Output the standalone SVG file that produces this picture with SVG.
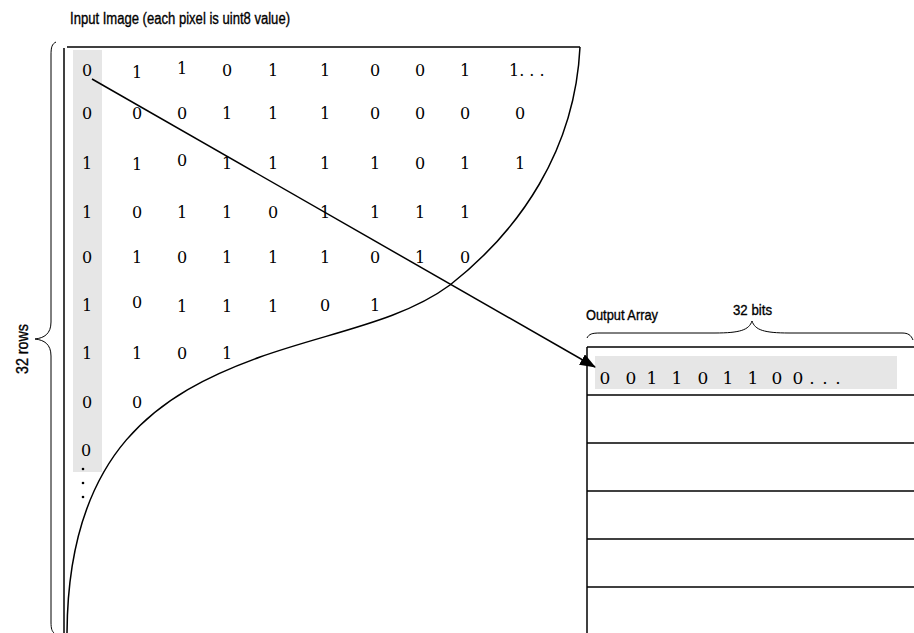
<svg xmlns="http://www.w3.org/2000/svg" width="914" height="633" viewBox="0 0 914 633">
<style>
.lbl{font-family:"Liberation Sans",Arial,sans-serif;fill:#000;stroke:#000;stroke-width:0.35;}
.num{font-family:"DejaVu Serif","Liberation Serif",serif;font-size:16px;fill:#000;text-anchor:middle;}
.ser{font-family:"DejaVu Serif","Liberation Serif",serif;fill:#000;}
.ln{fill:none;stroke:#000;stroke-width:1.5;}
.br{fill:none;stroke:#000;stroke-width:1;}
</style>
<defs>
<marker id="ah" markerWidth="16" markerHeight="12" refX="15" refY="6" orient="auto" markerUnits="userSpaceOnUse">
<path d="M0,0 L16,6 L0,12 Z" fill="#000"/>
</marker>
</defs>
<rect width="914" height="633" fill="#fff"/>

<g id="input-image">
<text class="lbl" x="70" y="24" font-size="16" textLength="220" lengthAdjust="spacingAndGlyphs">Input Image (each pixel is uint8 value)</text>
<rect x="73" y="50" width="29" height="422" fill="#e6e6e6"/>
<line class="ln" x1="64" y1="48" x2="64" y2="633"/>
<line class="ln" x1="67" y1="47" x2="580" y2="47"/>
<path class="ln" d="M580,47 C575,150 520,230 450,285 C400,322 330,332 260,357 C160,393 68,450 67,633"/>
<path class="br" d="M56,42 C52,44 51,47 51,55 L51,322 C51,334 44,338 35,339 C44,340 51,344 51,356 L51,622 C51,629 52,631 54,633"/>
<text class="lbl" transform="translate(28,374) rotate(-90)" font-size="16" textLength="50" lengthAdjust="spacingAndGlyphs">32 rows</text>
<g id="pixels">
<text class="num" x="87" y="76">0</text><text class="num" x="137" y="78">1</text><text class="num" x="182" y="74">1</text><text class="num" x="227" y="76">0</text><text class="num" x="273" y="76">1</text><text class="num" x="325" y="76">1</text><text class="num" x="375" y="76">0</text><text class="num" x="420" y="76">0</text><text class="num" x="465" y="76">1</text><text class="ser" x="509" y="76" font-size="16">1. . .</text>
<text class="num" x="87" y="119">0</text><text class="num" x="137" y="119">0</text><text class="num" x="182" y="119">0</text><text class="num" x="227" y="119">1</text><text class="num" x="273" y="119">1</text><text class="num" x="325" y="119">1</text><text class="num" x="375" y="119">0</text><text class="num" x="420" y="119">0</text><text class="num" x="465" y="119">0</text><text class="num" x="520" y="119">0</text>
<text class="num" x="87" y="169">1</text><text class="num" x="137" y="170">1</text><text class="num" x="182" y="166">0</text><text class="num" x="227" y="169">1</text><text class="num" x="273" y="169">1</text><text class="num" x="325" y="169">1</text><text class="num" x="375" y="169">1</text><text class="num" x="420" y="169">0</text><text class="num" x="465" y="169">1</text><text class="num" x="520" y="169">1</text>
<text class="num" x="87" y="218">1</text><text class="num" x="137" y="218">0</text><text class="num" x="182" y="218">1</text><text class="num" x="227" y="218">1</text><text class="num" x="273" y="218">0</text><text class="num" x="325" y="218">1</text><text class="num" x="375" y="218">1</text><text class="num" x="420" y="218">1</text><text class="num" x="465" y="218">1</text>
<text class="num" x="87" y="263">0</text><text class="num" x="137" y="263">1</text><text class="num" x="182" y="263">0</text><text class="num" x="227" y="263">1</text><text class="num" x="273" y="263">1</text><text class="num" x="325" y="263">1</text><text class="num" x="375" y="263">0</text><text class="num" x="420" y="263">1</text><text class="num" x="465" y="263">0</text>
<text class="num" x="87" y="311">1</text><text class="num" x="137" y="308">0</text><text class="num" x="182" y="312">1</text><text class="num" x="227" y="312">1</text><text class="num" x="273" y="312">1</text><text class="num" x="325" y="311">0</text><text class="num" x="375" y="311">1</text>
<text class="num" x="87" y="359">1</text><text class="num" x="137" y="359">1</text><text class="num" x="182" y="359">0</text><text class="num" x="227" y="359">1</text>
<text class="num" x="87" y="408">0</text><text class="num" x="137" y="408">0</text>
<text class="num" x="86" y="456">0</text>
<circle cx="83" cy="469" r="1.3" fill="#000"/><circle cx="83" cy="483" r="1.3" fill="#000"/><circle cx="83" cy="497" r="1.3" fill="#000"/>
</g>
</g>

<g id="output-array">
<text class="lbl" x="586" y="320" font-size="15" textLength="72" lengthAdjust="spacingAndGlyphs">Output Array</text>
<text class="lbl" x="733" y="315" font-size="15" textLength="39" lengthAdjust="spacingAndGlyphs">32 bits</text>
<path class="br" d="M587,338 C589,334 592,333 600,333 L715,333 C740,333 749,330 752,321 C755,330 764,333 789,333 L902,333 C908,333 911,335 913,340"/>
<line class="ln" x1="587" y1="347" x2="587" y2="633"/>
<line class="ln" x1="587" y1="347" x2="914" y2="347"/>
<rect x="595" y="356" width="302" height="33" fill="#e6e6e6"/>
<text class="ser" font-size="17" text-anchor="middle" y="384" x="605 631 652 677 703 728 753 777 798 812 825 838">001101100...</text>
<line class="ln" x1="587" y1="395" x2="914" y2="395"/>
<line class="ln" x1="587" y1="443" x2="914" y2="443"/>
<line class="ln" x1="587" y1="491" x2="914" y2="491"/>
<line class="ln" x1="587" y1="539" x2="914" y2="539"/>
<line class="ln" x1="587" y1="587" x2="914" y2="587"/>
</g>

<g id="connectors">
<line x1="92" y1="79" x2="595" y2="367" stroke="#000" stroke-width="1.5" marker-end="url(#ah)"/>
</g>
</svg>
